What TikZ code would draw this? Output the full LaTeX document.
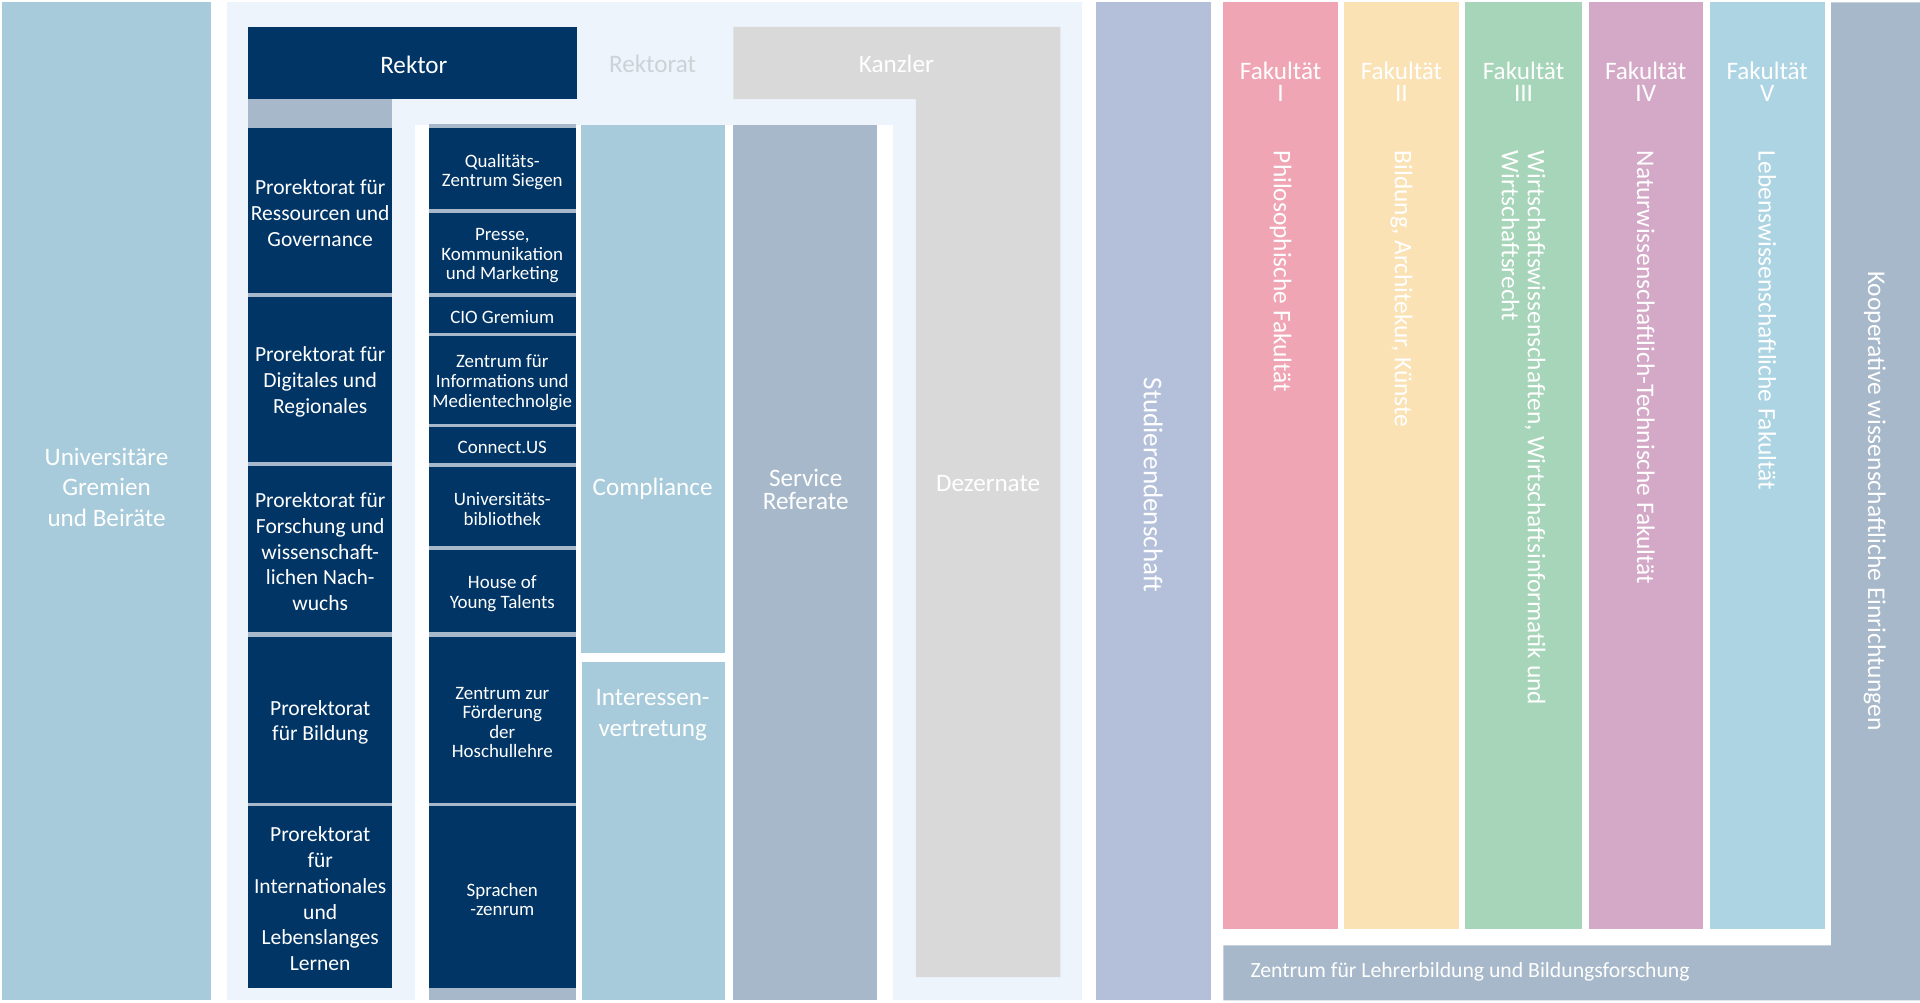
\documentclass[tikz,border=0pt]{standalone}
\usepackage{fontspec}
\setmainfont{Carlito}
\definecolor{navy}{RGB}{0,53,102}
\definecolor{steel}{RGB}{166,184,201}
\definecolor{paleblue}{RGB}{167,203,219}
\definecolor{rektoratbg}{RGB}{238,244,251}
\definecolor{kanzlergray}{RGB}{217,217,217}
\definecolor{rektorattext}{RGB}{205,210,214}
\definecolor{studcol}{RGB}{180,192,218}
\definecolor{fakI}{RGB}{240,165,180}
\definecolor{fakII}{RGB}{250,226,180}
\definecolor{fakIII}{RGB}{166,213,185}
\definecolor{fakIV}{RGB}{212,169,199}
\definecolor{fakV}{RGB}{173,212,226}
\begin{document}
\begin{tikzpicture}[x=0.75pt,y=0.75pt,yscale=-1,xscale=1,
	big/.style={inner sep=0.75pt,text=white,align=center,font=\fontsize{15.4}{18.75}\selectfont},
	prk/.style={inner sep=0.75pt,text=white,align=center,font=\fontsize{13.2}{15.75}\selectfont},
	unit/.style={inner sep=0.75pt,text=white,align=center,font=\fontsize{11.6}{12}\selectfont},
	fakhead/.style={inner sep=0.75pt,text=white,align=center,font=\fontsize{15.4}{13.5}\selectfont},
	fakname/.style={inner sep=0.75pt,text=white,align=left,rotate=-90,anchor=west,font=\fontsize{15.5}{16}\selectfont}]
	\useasboundingbox (0,0) rectangle (1568,819);
	
	%Shape: Rectangle
	\draw  [fill=paleblue,draw opacity=0] (2,2) -- (172.5,2) -- (172.5,817) -- (2,817) -- cycle ;
	%Shape: Rectangle
	\draw  [fill=rektoratbg,draw opacity=0] (185,2) -- (883.5,2) -- (883.5,817) -- (185,817) -- cycle ;
	%Shape: Rectangle
	\draw  [fill=white,draw opacity=0] (339,102) -- (729.5,102) -- (729.5,817) -- (339,817) -- cycle ;
	%Shape: Rectangle
	\draw  [fill=navy,draw opacity=0] (202.5,22) -- (471.5,22) -- (471.5,81) -- (202.5,81) -- cycle ;
	%Shape: Rectangle
	\draw  [fill=steel,draw opacity=0] (202.5,81) -- (320.5,81) -- (320.5,806.5) -- (202.5,806.5) -- cycle ;
	%Shape: Rectangle
	\draw  [fill=steel,draw opacity=0] (350.5,101) -- (470,101) -- (470,817) -- (350.5,817) -- cycle ;
	%Shape: Rectangle
	\draw  [fill=navy,draw opacity=0] (202.5,104.5) -- (320.5,104.5) -- (320.5,239.5) -- (202.5,239.5) -- cycle ;
	%Shape: Rectangle
	\draw  [fill=navy,draw opacity=0] (202.5,242.5) -- (320.5,242.5) -- (320.5,377) -- (202.5,377) -- cycle ;
	%Shape: Rectangle
	\draw  [fill=navy,draw opacity=0] (202.5,380.5) -- (320.5,380.5) -- (320.5,516.5) -- (202.5,516.5) -- cycle ;
	%Shape: Rectangle
	\draw  [fill=navy,draw opacity=0] (202.5,520) -- (320.5,520) -- (320.5,655.5) -- (202.5,655.5) -- cycle ;
	%Shape: Rectangle
	\draw  [fill=navy,draw opacity=0] (202.5,658.5) -- (320.5,658.5) -- (320.5,806.5) -- (202.5,806.5) -- cycle ;
	%Shape: Rectangle
	\draw  [fill=navy,draw opacity=0] (350.5,104.8) -- (470,104.8) -- (470,171) -- (350.5,171) -- cycle ;
	%Shape: Rectangle
	\draw  [fill=navy,draw opacity=0] (350.5,174) -- (470,174) -- (470,239.5) -- (350.5,239.5) -- cycle ;
	%Shape: Rectangle
	\draw  [fill=navy,draw opacity=0] (350.5,242.5) -- (470,242.5) -- (470,271.7) -- (350.5,271.7) -- cycle ;
	%Shape: Rectangle
	\draw  [fill=navy,draw opacity=0] (350.5,274.5) -- (470,274.5) -- (470,346.5) -- (350.5,346.5) -- cycle ;
	%Shape: Rectangle
	\draw  [fill=navy,draw opacity=0] (350.5,349) -- (470,349) -- (470,378.4) -- (350.5,378.4) -- cycle ;
	%Shape: Rectangle
	\draw  [fill=navy,draw opacity=0] (350.5,381) -- (470,381) -- (470,446) -- (350.5,446) -- cycle ;
	%Shape: Rectangle
	\draw  [fill=navy,draw opacity=0] (350.5,449.4) -- (470,449.4) -- (470,516.5) -- (350.5,516.5) -- cycle ;
	%Shape: Rectangle
	\draw  [fill=navy,draw opacity=0] (350.5,520) -- (470,520) -- (470,655.5) -- (350.5,655.5) -- cycle ;
	%Shape: Rectangle
	\draw  [fill=navy,draw opacity=0] (350.5,658.5) -- (470,658.5) -- (470,806.5) -- (350.5,806.5) -- cycle ;
	%Shape: Rectangle
	\draw  [fill=paleblue,draw opacity=0] (474.5,102) -- (591.7,102) -- (591.7,533.5) -- (474.5,533.5) -- cycle ;
	%Shape: Rectangle
	\draw  [fill=paleblue,draw opacity=0] (475.5,541) -- (591.7,541) -- (591.7,817) -- (475.5,817) -- cycle ;
	%Shape: Rectangle
	\draw  [fill=steel,draw opacity=0] (599,102) -- (716.6,102) -- (716.6,817) -- (599,817) -- cycle ;
	%Shape: Polygon
	\draw  [fill=kanzlergray,draw opacity=0] (599,22) -- (866,22) -- (866,798) -- (748,798) -- (748,81) -- (599,81) -- cycle ;
	
	%Shape: Rectangle
	\draw  [fill=studcol,draw opacity=0] (895,2) -- (988.6,2) -- (988.6,817) -- (895,817) -- cycle ;
	%Shape: Rectangle
	\draw  [fill=fakI,draw opacity=0] (999,2) -- (1092.5,2) -- (1092.5,759) -- (999,759) -- cycle ;
	%Shape: Rectangle
	\draw  [fill=fakII,draw opacity=0] (1097.8,2) -- (1191.2,2) -- (1191.2,759) -- (1097.8,759) -- cycle ;
	%Shape: Rectangle
	\draw  [fill=fakIII,draw opacity=0] (1196.8,2) -- (1291.6,2) -- (1291.6,759) -- (1196.8,759) -- cycle ;
	%Shape: Rectangle
	\draw  [fill=fakIV,draw opacity=0] (1297.3,2) -- (1390.8,2) -- (1390.8,759) -- (1297.3,759) -- cycle ;
	%Shape: Rectangle
	\draw  [fill=fakV,draw opacity=0] (1396.2,2) -- (1490.1,2) -- (1490.1,759) -- (1396.2,759) -- cycle ;
	%Shape: Polygon
	\draw  [fill=steel,draw opacity=0] (1495.5,2) -- (1568,2) -- (1568,817) -- (999,817) -- (999,772) -- (1495.5,772) -- cycle ;
	
	% Text Node
	\draw (87,398) node [big] (gremien) {Universitäre\\Gremien\\und Beiräte};
	% Text Node
	\draw (338,53) node [big] (rektor) {Rektor};
	% Text Node
	\draw (533,52) node [big,text=rektorattext] (rektorat) {Rektorat};
	% Text Node
	\draw (732,52) node [big] (kanzler) {Kanzler};
	% Text Node
	\draw (261.5,174) node [prk] (prkRes) {Prorektorat für\\Ressourcen und\\Governance};
	% Text Node
	\draw (261.5,312) node [prk] (prkDig) {Prorektorat für\\Digitales und\\Regionales};
	% Text Node
	\draw (261.5,450.5) node [prk] (prkFor) {Prorektorat für\\Forschung und\\wissenschaft-\\lichen Nach-\\wuchs};
	% Text Node
	\draw (261.5,590) node [prk] (prkBil) {Prorektorat\\für Bildung};
	% Text Node
	\draw (261.5,734) node [prk] (prkInt) {Prorektorat\\für\\Internationales\\und\\Lebenslanges\\Lernen};
	% Text Node
	\draw (410.2,140.5) node [unit] (qzs) {Qualitäts-\\Zentrum Siegen};
	% Text Node
	\draw (410.2,209) node [unit] (presse) {Presse,\\Kommunikation\\und Marketing};
	% Text Node
	\draw (410.2,259) node [unit] (cio) {CIO Gremium};
	% Text Node
	\draw (410.2,312.5) node [unit] (zim) {Zentrum für\\Informations und\\Medientechnolgie};
	% Text Node
	\draw (410.2,365.5) node [unit] (connect) {Connect.US};
	% Text Node
	\draw (410.2,415.5) node [unit] (ub) {Universitäts-\\bibliothek};
	% Text Node
	\draw (410.2,485) node [unit] (hoyt) {House of\\Young Talents};
	% Text Node
	\draw (410.2,590) node [unit] (zfh) {Zentrum zur\\Förderung\\der\\Hoschullehre};
	% Text Node
	\draw (410.2,734.5) node [unit] (spz) {Sprachen\\-zenrum};
	% Text Node
	\draw (533,399) node [big] (compliance) {Compliance};
	% Text Node
	\draw (533,584) node [big] (interessen) {Interessen-\\vertretung};
	% Text Node
	\draw (658,399.5) node [big,font=\fontsize{15.4}{14.25}\selectfont] (service) {Service\\Referate};
	% Text Node
	\draw (807,395) node [big] (dezernate) {Dezernate};
	
	% Text Node
	\draw (941.8,396) node [big,rotate=-90,font=\fontsize{16.6}{18.75}\selectfont] (stud) {Studierendenschaft};
	% Text Node
	\draw (1045.8,67) node [fakhead] (headI) {Fakultät\\I};
	% Text Node
	\draw (1144.5,67) node [fakhead] (headII) {Fakultät\\II};
	% Text Node
	\draw (1244.2,67) node [fakhead] (headIII) {Fakultät\\III};
	% Text Node
	\draw (1344,67) node [fakhead] (headIV) {Fakultät\\IV};
	% Text Node
	\draw (1443.2,67) node [fakhead] (headV) {Fakultät\\V};
	% Text Node
	\draw (1045.8,122) node [fakname] (fakPhil) {Philosophische Fakultät};
	% Text Node
	\draw (1144.5,122) node [fakname] (fakBil) {Bildung, Architekur, Künste};
	% Text Node
	\draw (1244.2,122) node [fakname] (fakWiwi) {Wirtschaftswissenschaften, Wirtschaftsinformatik und\\Wirtschaftsrecht};
	% Text Node
	\draw (1344,122) node [fakname] (fakNat) {Naturwissenschaftlich-Technische Fakultät};
	% Text Node
	\draw (1443.2,122) node [fakname] (fakLeb) {Lebenswissenschaftliche Fakultät};
	% Text Node
	\draw (1531,409) node [big,rotate=-90,font=\fontsize{15.6}{18.75}\selectfont] (koop) {Kooperative wissenschaftliche Einrichtungen};
	% Text Node
	\draw (1020,794) node [anchor=west,inner sep=0.75pt,text=white,font=\fontsize{13.3}{16}\selectfont] (zlb) {Zentrum für Lehrerbildung und Bildungsforschung};
\end{tikzpicture}
\end{document}
